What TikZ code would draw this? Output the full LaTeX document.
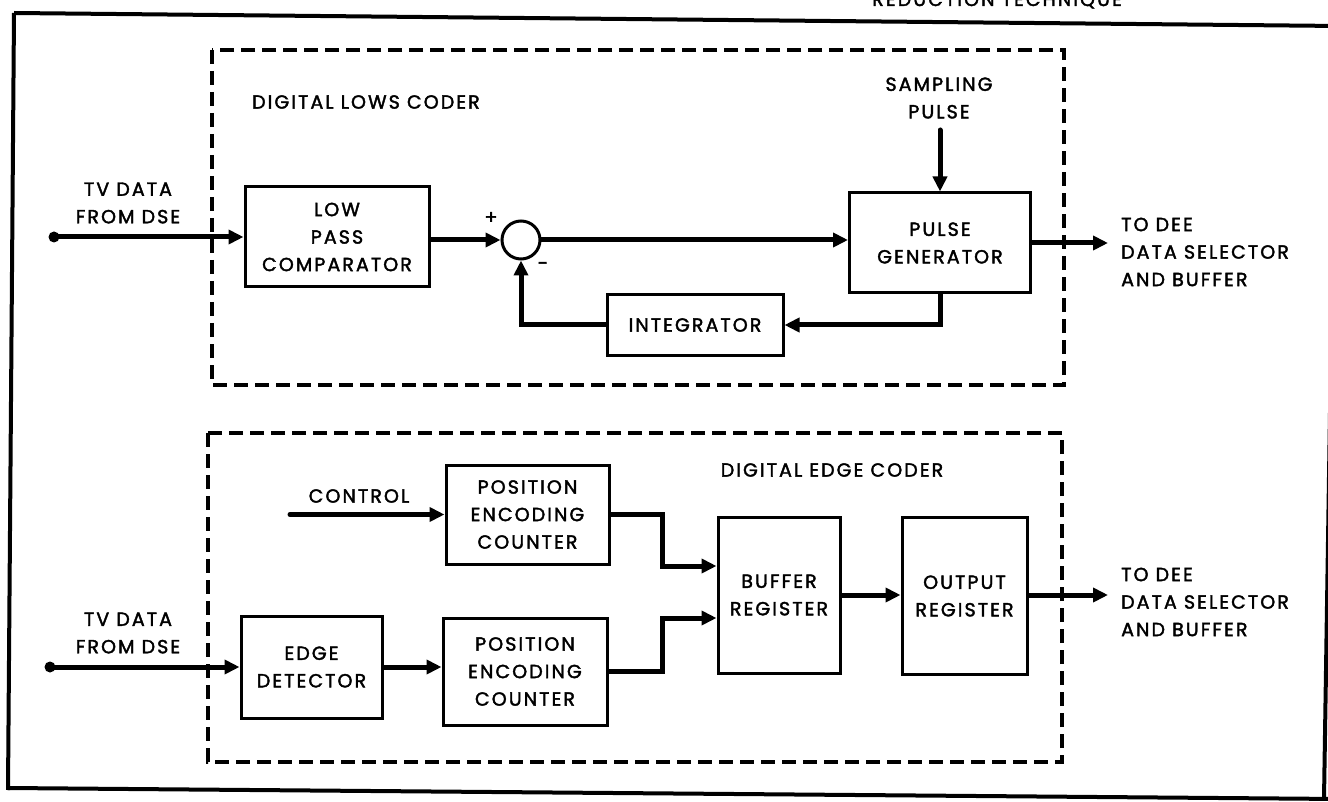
\documentclass[tikz,border=0pt]{standalone}
\usepackage{fontspec}
\setmainfont{Poppins}[FakeBold=2,LetterSpace=11]
\usetikzlibrary{arrows.meta}
\newcommand\dfont{\fontsize{19}{27.5}\selectfont}
\begin{document}
\begin{tikzpicture}[x=1pt,y=-1pt,
  blk/.style={draw,line width=3pt,inner sep=0pt,align=center,font=\dfont},
  lbl/.style={inner sep=0pt,align=center,font=\dfont},
  lbll/.style={inner sep=0pt,align=left,font=\dfont},
  conn/.style={line width=5pt,line cap=round,-{Triangle[length=15pt,width=14pt]}},
  dbox/.style={line width=3.5pt,dash pattern=on 14pt off 7pt},
  frame/.style={line width=4pt}]
\useasboundingbox (0,0) rectangle (1328,802);
% outer frame
\draw[frame] (14,13) -- (1340,26);
\draw[frame] (14,13) -- (8,790);
\draw[frame] (8,788) -- (1340,799);
\draw[frame] (1336,25) -- (1324,799);
\node[anchor=base east,font=\dfont,inner sep=0pt] (title) at (1122,6) {REDUCTION TECHNIQUE};
% dashed groups
\draw[dbox] (212,50) rectangle (1064,385);
\draw[dbox] (208,433) rectangle (1062,762);
% ---- top: digital lows coder
\node[lbl,anchor=west] (lowsl) at (252,102) {DIGITAL LOWS CODER};
\node[lbl] (tv1) at (128,203) {TV DATA\\FROM DSE};
\coordinate (in1) at (54,237);
\fill (in1) circle (5.5);
\node[blk,minimum width=184pt,minimum height=100pt] (lpc) at (337,237) {LOW\\PASS\\COMPARATOR};
\node[circle,draw,line width=3pt,minimum size=38pt,inner sep=0pt] (sum) at (521,240) {};
\node[inner sep=0pt,font=\dfont] (plus) at (491,218) {+};
\node[inner sep=0pt,font=\dfont] (minus) at (543,266) {-};
\node[blk,minimum width=181pt,minimum height=100pt] (pg) at (940,243) {PULSE\\GENERATOR};
\node[lbl] (spl) at (939,98) {SAMPLING\\PULSE};
\coordinate (spt) at (940,130);
\node[blk,minimum width=176pt,minimum height=60pt] (int) at (695,325) {INTEGRATOR};
\coordinate (out1) at (1108,243);
\node[lbll,anchor=west] (to1) at (1121,252) {TO DEE\\DATA SELECTOR\\AND BUFFER};
\draw[conn] (in1) -- (in1 -| lpc.west);
\draw[conn] (lpc.east |- sum) -- (sum.west);
\draw[conn] (sum.east) -- (sum.east -| pg.west);
\draw[conn] (spt) -- (pg.north);
\draw[conn] (pg.south) |- (int.east);
\draw[conn] (int.west) -| (sum.south);
\draw[conn] (pg.east) -- (out1);
% ---- bottom: digital edge coder
\node[lbl] (edgel) at (832,470) {DIGITAL EDGE CODER};
\node[lbl] (ctll) at (359,496) {CONTROL};
\coordinate (ctl) at (290,514.5);
\node[blk,minimum width=163pt,minimum height=99pt] (pec1) at (527.5,514.5) {POSITION\\ENCODING\\COUNTER};
\node[lbl] (tv2) at (128,633) {TV DATA\\FROM DSE};
\coordinate (in2) at (50,667);
\fill (in2) circle (5.5);
\node[blk,minimum width=141pt,minimum height=102pt] (ed) at (311.5,667) {EDGE\\DETECTOR};
\node[blk,minimum width=164pt,minimum height=107pt] (pec2) at (525,671.5) {POSITION\\ENCODING\\COUNTER};
\node[blk,minimum width=122pt,minimum height=156pt] (buf) at (779,595) {BUFFER\\REGISTER};
\node[blk,minimum width=125pt,minimum height=157pt] (outr) at (964.5,596) {OUTPUT\\REGISTER};
\coordinate (j1) at (662,566);
\coordinate (j2) at (662,618);
\coordinate (out2) at (1108,595);
\node[lbll,anchor=west] (to2) at (1121,602) {TO DEE\\DATA SELECTOR\\AND BUFFER};
\draw[conn] (ctl) -- (ctl -| pec1.west);
\draw[conn] (in2) -- (in2 -| ed.west);
\draw[conn] (ed.east) -- (ed.east -| pec2.west);
\draw[conn] (pec1.east) -| (j1) -- (j1 -| buf.west);
\draw[conn] (pec2.east) -| (j2) -- (j2 -| buf.west);
\draw[conn] (buf.east) -- (buf.east -| outr.west);
\draw[conn] (outr.east |- buf.east) -- (out2);
\end{tikzpicture}
\end{document}
